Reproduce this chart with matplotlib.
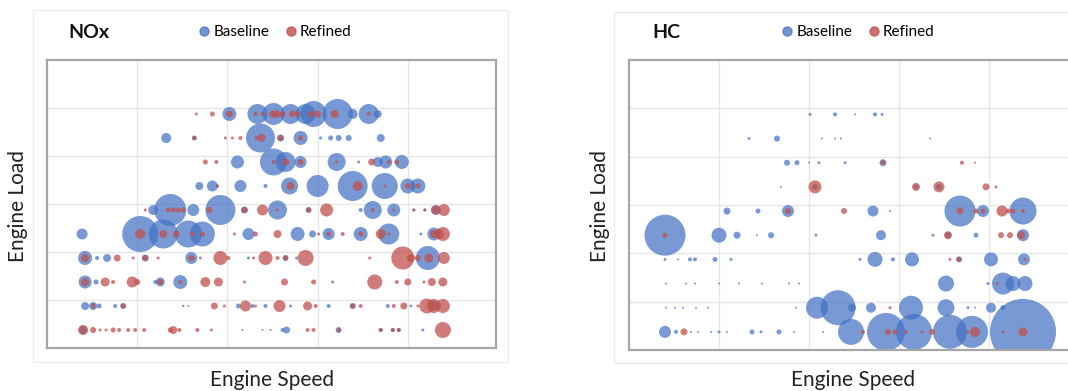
import matplotlib
matplotlib.use("Agg")
import matplotlib.pyplot as plt
from matplotlib.lines import Line2D
from matplotlib.patches import Rectangle

plt.rcParams["font.family"] = ["Lato", "DejaVu Sans"]

# engine speed (arbitrary units, 0-450), load bin (1 = lowest .. 10 = highest), emission value

# ---------------- NOx, baseline ----------------
nox_base_speed = [
    182, 210, 226, 243, 258, 266, 290, 305, 321, 330,                      # bin 10
    119, 147, 213, 233, 253, 273, 283, 291, 301, 333,                      # bin 9
    190, 226, 238, 253, 289, 311, 330, 338, 354,                           # bin 8
    152, 165, 170, 193, 218, 242, 270, 305, 337, 360, 370,                 # bin 7
    106, 123, 146, 173, 197, 230, 261, 313, 325, 346, 366, 377, 388,       # bin 6
    35, 93, 116, 141, 155, 201, 250, 265, 281, 313, 341, 373, 386,         # bin 5
    38, 50, 60, 98, 144, 201, 238, 249, 380,                               # bin 4
    38, 49, 108, 113, 133, 285,                                            # bin 3
    38, 46, 52, 68, 76, 136, 141, 191, 205, 218, 243, 281, 305, 340, 363, 386,  # bin 2
    36, 195, 215, 223, 235, 239, 291, 333, 345, 351, 375,                  # bin 1
]
nox_base_load = ([10] * 10 + [9] * 10 + [8] * 9 + [7] * 11 + [6] * 13 + [5] * 13
                 + [4] * 9 + [3] * 6 + [2] * 16 + [1] * 11)
nox_base_val = [
    14, 20, 22, 20, 20, 26, 30, 10, 20, 8,
    10, 5, 29, 7, 14, 3, 5, 6, 6, 8,
    13, 27, 20, 12, 18, 3, 10, 13, 14,
    8, 11, 3, 12, 4, 17, 22, 30, 26, 15, 15,
    10, 32, 12, 30, 7, 19, 6, 4, 18, 13, 3, 3, 10,
    11, 36, 29, 27, 25, 12, 14, 7, 12, 14, 21, 3, 13,
    14, 4, 8, 7, 12, 3, 6, 3, 24,
    13, 5, 4, 9, 14, 3,
    8, 8, 5, 4, 6, 2, 2, 5, 4, 4, 3, 4, 6, 4, 3, 10,
    8, 2, 2, 2, 4, 7, 6, 4, 4, 4, 3,
]

# ---------------- NOx, refined ----------------
nox_ref_speed = [
    149, 165, 182, 208, 215, 225, 229, 235, 245, 250, 263, 270, 287, 321,   # bin 10
    147, 178, 185, 193, 209, 214, 233, 253,                                  # bin 9
    158, 169, 226, 238, 253, 289, 324, 341, 349,                             # bin 8
    170, 243, 310, 337, 360, 370,                                            # bin 7
    98, 121, 126, 131, 136, 162, 197, 215, 230, 261, 279, 325, 346, 366, 377, 388, 396,  # bin 6
    93, 116, 129, 145, 155, 187, 208, 230, 271, 281, 295, 313, 333, 341, 386, 391, 395,  # bin 5
    38, 70, 86, 98, 111, 144, 153, 173, 181, 206, 218, 230, 238, 258, 322, 355, 363, 370, 381, 396,  # bin 4
    38, 58, 66, 85, 90, 113, 133, 158, 171, 197, 237, 266, 327, 349, 360, 376, 384, 395,  # bin 3
    46, 76, 136, 167, 177, 198, 208, 232, 260, 268, 305, 313, 346, 356, 370, 379, 386, 395,  # bin 2
    36, 46, 53, 59, 66, 72, 81, 88, 97, 123, 126, 132, 150, 164, 260, 266, 291, 333, 345, 351, 395,  # bin 1
]
nox_ref_load = ([10] * 14 + [9] * 8 + [8] * 9 + [7] * 6 + [6] * 17 + [5] * 17
                + [4] * 20 + [3] * 18 + [2] * 18 + [1] * 21)
nox_ref_val = [
    3, 5, 7, 4, 4, 7, 8, 6, 7, 5, 6, 7, 8, 4,
    4, 3, 3, 4, 4, 8, 6, 5,
    5, 4, 4, 7, 6, 3, 7, 4, 5,
    3, 8, 10, 3, 6, 5,
    3, 5, 5, 5, 5, 6, 6, 11, 3, 5, 13, 4, 3, 3, 3, 9, 12,
    10, 8, 7, 5, 5, 3, 5, 8, 3, 5, 4, 5, 10, 3, 8, 10, 14,
    8, 7, 3, 6, 3, 6, 3, 14, 4, 3, 14, 4, 5, 16, 3, 23, 8, 6, 9, 12,
    8, 9, 4, 11, 6, 6, 4, 10, 9, 3, 7, 5, 15, 4, 7, 3, 8, 9,
    5, 5, 2, 7, 3, 11, 3, 12, 9, 4, 5, 4, 4, 7, 3, 15, 14, 14,
    10, 6, 3, 3, 5, 4, 4, 4, 4, 5, 8, 4, 4, 3, 4, 4, 4, 4, 4, 4, 16,
]

# ---------------- HC, baseline ----------------
hc_base_speed = [
    181, 206, 226, 246, 253,                                               # bin 10
    120, 148, 193, 206, 212, 301,                                          # bin 9
    158, 168, 180, 190, 216, 254,                                          # bin 8
    152, 186, 287, 310,                                                    # bin 7
    98, 129, 159, 244, 331, 354, 394,                                      # bin 6
    36, 90, 108, 128, 142, 187, 252, 304, 319, 347, 394,                   # bin 5
    36, 49, 61, 66, 86, 102, 231, 246, 264, 283, 330, 362, 395,            # bin 4
    37, 57, 66, 90, 110, 133, 160, 170, 317, 359, 374, 384, 396,           # bin 3
    37, 46, 54, 67, 79, 167, 188, 209, 223, 242, 282, 317, 339, 346, 362, 374,  # bin 2
    36, 47, 62, 69, 82, 90, 98, 123, 132, 150, 165, 194, 222, 257, 285, 321, 343, 394,  # bin 1
]
hc_base_load = ([10] * 5 + [9] * 6 + [8] * 6 + [7] * 4 + [6] * 7 + [5] * 11
                + [4] * 13 + [3] * 13 + [2] * 16 + [1] * 18)
hc_base_val = [
    3, 4, 2, 4, 3,
    3, 6, 2, 2, 2, 2,
    6, 5, 2, 3, 3, 7,
    2, 6, 5, 6,
    7, 5, 12, 11, 31, 12, 27,
    41, 15, 7, 2, 6, 3, 10, 3, 6, 5, 12,
    3, 2, 4, 4, 5, 3, 3, 15, 4, 14, 6, 14, 12,
    2, 2, 2, 2, 2, 2, 2, 2, 16, 3, 22, 15, 15,
    2, 2, 2, 2, 2, 2, 22, 35, 8, 10, 24, 17, 3, 2, 10, 5,
    12, 4, 2, 2, 2, 3, 2, 5, 3, 5, 2, 2, 26, 38, 36, 34, 32, 66,
]

# ---------------- HC, refined ----------------
hc_ref_speed = [
    254, 333, 346,                                                         # bin 8
    186, 287, 310, 357, 367,                                               # bin 7
    159, 215, 261, 331, 347, 354, 373, 379, 384, 394,                      # bin 6
    36, 319, 372, 381, 392,                                                # bin 5
    321, 330, 396,                                                         # bin 4
    368,                                                                   # bin 3
    261,                                                                   # bin 2
    55, 234, 259, 266, 277, 293, 303, 339, 346, 374, 394,                  # bin 1
]
hc_ref_load = [8] * 3 + [7] * 5 + [6] * 10 + [5] * 5 + [4] * 3 + [3] + [2] + [1] * 11
hc_ref_val = [
    5, 4, 2,
    13, 8, 11, 7, 3,
    6, 6, 2, 7, 5, 5, 11, 5, 5, 4,
    5, 8, 6, 6, 8,
    3, 5, 3,
    3,
    3,
    7, 4, 6, 5, 4, 3, 6, 3, 10, 3, 9,
]

BLUE = "#4472C4"
RED = "#C0504D"
PX = 0.72  # points per pixel at dpi 100


def sizes(vals):
    return [(v * PX) ** 2 for v in vals]


fig = plt.figure(figsize=(10.68, 3.91), dpi=100)

# chart area outlines
fig.patches.append(Rectangle((33 / 1068, 1 - 362 / 391), 475 / 1068, 352 / 391,
                             transform=fig.transFigure, fill=False, ec="#ededed", lw=1))
fig.patches.append(Rectangle((614 / 1068, 1 - 363 / 391), 470 / 1068, 351 / 391,
                             transform=fig.transFigure, fill=False, ec="#ededed", lw=1))

panels = [
    ("NOx", [47 / 1068, 43 / 391, 449 / 1068, 288 / 391], 68, 274,
     nox_base_speed, nox_base_load, nox_base_val, nox_ref_speed, nox_ref_load, nox_ref_val),
    ("HC", [629 / 1068, 41 / 391, 448 / 1068, 290 / 391], 652, 857,
     hc_base_speed, hc_base_load, hc_base_val, hc_ref_speed, hc_ref_load, hc_ref_val),
]

for name, pos, tx, lx, bs, bl, bv, rs, rl, rv in panels:
    ax = fig.add_axes(pos)
    ax.set_xlim(0, 448)
    ax.set_ylim(0.25, 12.25)
    ax.set_xticks([90, 180, 270, 360])
    ax.set_yticks([2.25, 4.25, 6.25, 8.25, 10.25])
    ax.tick_params(length=0, labelbottom=False, labelleft=False)
    ax.grid(True, color="#e6e6e6", lw=1)
    ax.set_axisbelow(True)
    for sp in ax.spines.values():
        sp.set_color("#a6a6a6")
        sp.set_linewidth(1.6)
    ax.scatter(bs, bl, s=sizes(bv), color=BLUE, alpha=0.72, linewidths=0, zorder=2)
    ax.scatter(rs, rl, s=sizes(rv), color=RED, alpha=0.75, linewidths=0, zorder=3)

    fig.text(tx / 1068, 1 - 32 / 391, name, fontsize=14, fontweight="bold",
             va="center", ha="left", color="#111111")
    handles = [Line2D([], [], ls="", marker="o", ms=6.5, color=BLUE, alpha=0.75),
               Line2D([], [], ls="", marker="o", ms=6.5, color=RED, alpha=0.8)]
    fig.legend(handles, ["Baseline", "Refined"], loc="center",
               bbox_to_anchor=(lx / 1068, 1 - 32 / 391), ncol=2, frameon=False,
               fontsize=11, handletextpad=0.1, columnspacing=0.9, handlelength=1.0)

for x_load, x_speed in [(18, 272), (600, 853)]:
    fig.text(x_load / 1068, 1 - 206 / 391, "Engine Load", rotation=90, fontsize=15,
             ha="center", va="center", color="#222222")
    fig.text(x_speed / 1068, 1 - 380 / 391, "Engine Speed", fontsize=15,
             ha="center", va="center", color="#222222")

fig.savefig("out.png", dpi=100)
